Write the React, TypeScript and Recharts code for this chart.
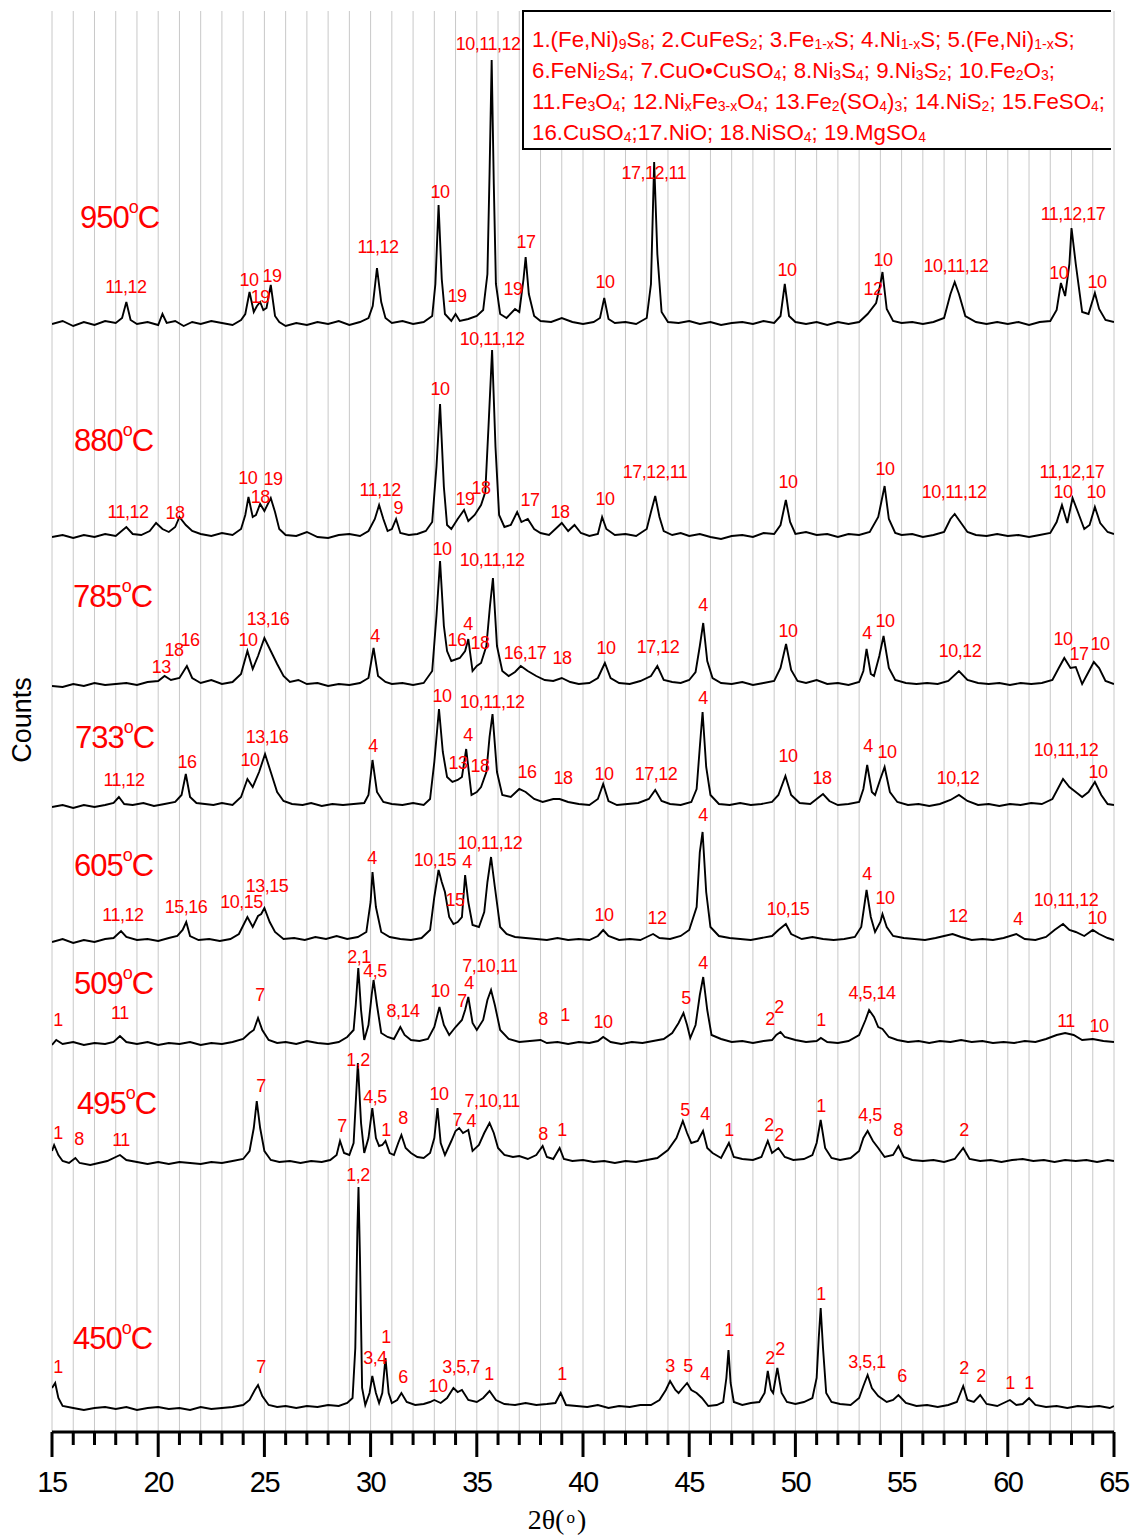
import React from "react";
import { ComposedChart, Line, Scatter, XAxis, YAxis, CartesianGrid } from "recharts";

/* x axis: 2θ, major labels every 5°, minor ticks every 1° */
const MAJOR_TICKS = [15, 20, 25, 30, 35, 40, 45, 50, 55, 60, 65];
const ALL_TICKS = Array.from({ length: 51 }, (_, i) => 15 + i);
/* y axis has no labels, only small inner ticks */
const Y_TICKS = [67.7, 135.3, 203, 270.7, 338.3, 406, 473.7, 541.3, 609, 676.7, 744.3, 812, 879.7, 947.3, 1015, 1082.7, 1150.3, 1218, 1285.7, 1353.3];

/* pattern offsets (stacked) */
const OFFSETS = { t950: 1108, t880: 895, t785: 746, t733: 625, t605: 490, t509: 387, t495: 269, t450: 24 };

/* [2θ, intensity above own baseline] */
const P950 = [
  [15, 0], [15.5, 3], [16, -2], [16.5, 2], [17, -1], [17.5, 3], [18, 1], [18.3, 6], [18.5, 22], [18.7, 4], [19, 0], [19.5, 2], [20, -1], [20.2, 10], [20.4, 1], [20.8, 3], [21.2, -2], [21.6, 2], [22, 0], [22.5, 3], [23, 1], [23.5, -1], [23.9, 4], [24.1, 10], [24.3, 32], [24.5, 12], [24.65, 18], [24.8, 22], [24.95, 14], [25.1, 16], [25.3, 39], [25.5, 8], [25.7, 2], [26, -2], [26.5, 1], [27, -1], [27.5, 2], [28, 0], [28.5, 3], [29, -1], [29.5, 2], [29.9, 6], [30.1, 18], [30.3, 56], [30.5, 22], [30.7, 6], [31, 1], [31.5, 3], [32, 0], [32.5, 2], [32.9, 8], [33.05, 40], [33.2, 119], [33.35, 45], [33.5, 10], [33.8, 3], [34, 10], [34.2, 3], [34.6, 5], [35, 8], [35.3, 14], [35.5, 50], [35.6, 150], [35.7, 264], [35.8, 140], [35.9, 40], [36.1, 10], [36.4, 6], [36.8, 15], [37, 12], [37.2, 45], [37.3, 67], [37.45, 30], [37.7, 8], [38, 3], [38.5, 2], [39, 6], [39.5, 2], [40, 0], [40.5, 2], [40.8, 6], [41, 26], [41.2, 5], [41.5, 1], [42, 2], [42.5, 0], [43, 6], [43.2, 40], [43.35, 162], [43.5, 70], [43.7, 12], [44, 2], [44.5, 1], [45, 3], [45.5, 0], [46, 2], [46.5, -1], [47, 1], [47.5, 2], [48, 0], [48.5, 3], [49, 1], [49.3, 8], [49.5, 40], [49.7, 8], [50, 2], [50.5, 0], [51, 2], [51.5, -1], [52, 2], [52.5, 0], [53, 2], [53.4, 10], [53.8, 21], [54, 40], [54.1, 52], [54.3, 15], [54.6, 3], [55, 1], [55.5, 2], [56, 0], [56.5, 2], [57, 6], [57.3, 30], [57.5, 42], [57.7, 30], [58, 8], [58.5, 2], [59, 0], [59.5, 2], [60, 0], [60.5, 2], [61, -1], [61.5, 2], [62, 3], [62.3, 14], [62.5, 41], [62.7, 28], [62.9, 60], [63, 96], [63.2, 60], [63.5, 12], [63.8, 10], [64.1, 31], [64.3, 15], [64.6, 4], [65, 2],
];
const P880 = [
  [15, 0], [15.5, 2], [16, -1], [16.5, 2], [17, 0], [17.5, 3], [18, 1], [18.5, 10], [18.8, 3], [19.2, 2], [19.6, 6], [19.9, 14], [20.2, 8], [20.5, 5], [20.8, 10], [21, 20], [21.3, 12], [21.6, 6], [22, 3], [22.5, 1], [23, 4], [23.5, 2], [23.9, 8], [24.1, 22], [24.25, 40], [24.45, 20], [24.6, 22], [24.8, 33], [25, 26], [25.3, 39], [25.5, 25], [25.7, 8], [26, 2], [26.5, 1], [27, 5], [27.5, 0], [28, -1], [28.5, 2], [29, 3], [29.5, 1], [29.9, 6], [30.2, 18], [30.4, 32], [30.6, 18], [30.8, 6], [31, 8], [31.2, 18], [31.4, 4], [31.8, 2], [32.2, 3], [32.6, 6], [32.9, 15], [33.1, 70], [33.27, 133], [33.45, 50], [33.6, 12], [33.8, 8], [34.1, 18], [34.4, 27], [34.6, 16], [34.9, 22], [35.2, 32], [35.4, 45], [35.55, 110], [35.72, 187], [35.88, 90], [36.05, 22], [36.3, 10], [36.6, 12], [36.9, 25], [37.1, 15], [37.4, 18], [37.7, 8], [38, 4], [38.4, 2], [38.8, 10], [39, 14], [39.3, 6], [39.6, 12], [39.9, 4], [40.3, 1], [40.7, 3], [40.9, 20], [41.1, 8], [41.5, 2], [42, 3], [42.5, 1], [43, 8], [43.2, 25], [43.4, 41], [43.6, 20], [43.8, 6], [44.2, 2], [44.6, 4], [45, 1], [45.5, 3], [46, 0], [46.5, -2], [47, 1], [47.5, 2], [48, 0], [48.5, 4], [49, 3], [49.3, 12], [49.55, 37], [49.75, 15], [50, 3], [50.5, 5], [51, 2], [51.5, 3], [52, 0], [52.5, 3], [53, 2], [53.5, 5], [53.9, 20], [54.2, 51], [54.4, 18], [54.7, 4], [55, 2], [55.5, 3], [56, 0], [56.5, 2], [57, 5], [57.3, 18], [57.5, 23], [57.8, 14], [58.1, 5], [58.5, 2], [59, 1], [59.5, 3], [60, 1], [60.5, 2], [61, 0], [61.5, 2], [62, 4], [62.3, 15], [62.55, 32], [62.8, 14], [63.05, 39], [63.3, 25], [63.6, 8], [63.85, 12], [64.1, 30], [64.35, 14], [64.7, 5], [65, 3],
];
const P785 = [
  [15, 0], [15.5, -1], [16, 2], [16.5, 0], [17, 3], [17.5, 1], [18, 2], [18.5, 3], [19, 1], [19.5, 4], [20, 5], [20.3, 10], [20.6, 6], [21, 8], [21.35, 20], [21.6, 8], [22, 3], [22.5, 6], [23, 2], [23.5, 4], [23.9, 12], [24.2, 35], [24.45, 17], [24.7, 30], [25, 48], [25.3, 35], [25.6, 22], [25.9, 10], [26.2, 4], [26.6, 6], [27, 2], [27.5, 3], [28, 0], [28.5, 2], [29, 1], [29.5, 3], [29.9, 8], [30.14, 38], [30.35, 10], [30.7, 4], [31, 2], [31.5, 3], [32, 1], [32.5, 3], [32.9, 15], [33.1, 70], [33.27, 125], [33.45, 60], [33.6, 35], [33.8, 25], [34.2, 28], [34.45, 35], [34.6, 47], [34.8, 15], [35, 20], [35.2, 23], [35.45, 40], [35.62, 80], [35.76, 108], [35.95, 40], [36.2, 15], [36.5, 10], [36.8, 14], [37.07, 20], [37.4, 15], [37.8, 10], [38.2, 6], [38.6, 5], [39, 8], [39.4, 4], [39.8, 2], [40.3, 3], [40.7, 8], [41.03, 23], [41.3, 8], [41.7, 3], [42.2, 2], [42.7, 5], [43.2, 10], [43.5, 20], [43.8, 6], [44.2, 4], [44.6, 3], [45, 6], [45.3, 14], [45.5, 40], [45.66, 63], [45.85, 25], [46.1, 8], [46.5, 3], [47, 2], [47.5, 4], [48, 1], [48.5, 3], [49, 5], [49.3, 18], [49.56, 42], [49.8, 16], [50.1, 5], [50.5, 3], [51, 6], [51.5, 2], [52, 3], [52.5, 1], [53, 4], [53.2, 15], [53.35, 37], [53.55, 12], [53.7, 10], [53.95, 30], [54.15, 50], [54.4, 18], [54.7, 6], [55.2, 3], [55.7, 2], [56.2, 3], [56.7, 2], [57.2, 5], [57.7, 15], [58.1, 6], [58.6, 3], [59.1, 2], [59.6, 3], [60.1, 1], [60.6, 3], [61.1, 2], [61.6, 3], [62.1, 6], [62.4, 18], [62.66, 28], [62.95, 18], [63.2, 19], [63.5, 2], [63.8, 14], [64.05, 24], [64.3, 18], [64.6, 5], [65, 2],
];
const P733 = [
  [15, 0], [15.5, 2], [16, -1], [16.5, 2], [17, 0], [17.5, 2], [17.9, 4], [18.15, 10], [18.4, 3], [18.8, 2], [19.3, 4], [19.8, 1], [20.3, 3], [20.8, 5], [21.1, 12], [21.3, 33], [21.5, 10], [21.8, 4], [22.2, 3], [22.6, 2], [23, 4], [23.5, 2], [23.9, 10], [24.2, 28], [24.45, 20], [24.75, 35], [25.03, 53], [25.3, 35], [25.6, 15], [25.9, 6], [26.3, 3], [26.8, 2], [27.2, 4], [27.7, 1], [28.2, 3], [28.7, 2], [29.2, 3], [29.7, 4], [29.9, 12], [30.09, 47], [30.3, 15], [30.6, 5], [31, 3], [31.5, 2], [32, 4], [32.5, 2], [32.8, 8], [33, 45], [33.22, 98], [33.4, 55], [33.6, 30], [33.85, 25], [34.1, 27], [34.3, 30], [34.5, 58], [34.75, 12], [35, 15], [35.2, 20], [35.45, 35], [35.6, 70], [35.74, 93], [35.95, 35], [36.2, 12], [36.6, 10], [37, 18], [37.3, 15], [37.7, 8], [38.1, 5], [38.6, 8], [38.9, 8], [39.3, 5], [39.8, 3], [40.3, 2], [40.7, 8], [40.95, 23], [41.2, 6], [41.6, 2], [42.1, 3], [42.6, 4], [43.1, 8], [43.4, 17], [43.7, 6], [44.1, 3], [44.6, 2], [45.1, 5], [45.35, 18], [45.5, 60], [45.63, 95], [45.8, 40], [46, 12], [46.4, 3], [46.9, 2], [47.4, 4], [47.9, 2], [48.4, 3], [48.9, 5], [49.2, 12], [49.53, 31], [49.8, 12], [50.2, 4], [50.7, 3], [51, 8], [51.3, 13], [51.6, 6], [52, 2], [52.5, 3], [53, 5], [53.2, 18], [53.38, 42], [53.6, 15], [53.75, 12], [54, 28], [54.2, 40], [54.45, 15], [54.8, 5], [55.3, 2], [55.8, 3], [56.3, 1], [56.8, 3], [57.3, 7], [57.7, 12], [58.1, 6], [58.6, 2], [59.1, 3], [59.6, 1], [60.1, 3], [60.6, 2], [61.1, 4], [61.6, 3], [62.1, 8], [62.4, 20], [62.6, 28], [62.9, 20], [63.2, 15], [63.5, 10], [63.8, 15], [64.1, 25], [64.4, 12], [64.7, 3], [65, 2],
];
const P605 = [
  [15, 0], [15.5, 3], [16, -1], [16.5, 2], [17, 0], [17.5, 3], [17.9, 4], [18.25, 11], [18.5, 5], [19, 2], [19.5, 3], [20, 1], [20.5, 4], [20.9, 6], [21.15, 12], [21.32, 20], [21.5, 6], [21.9, 2], [22.4, 3], [22.9, 1], [23.4, 3], [23.8, 8], [24.2, 25], [24.45, 15], [24.7, 26], [24.85, 28], [25, 34], [25.25, 20], [25.5, 10], [25.9, 3], [26.4, 4], [26.9, 2], [27.4, 5], [27.9, 3], [28.4, 6], [28.9, 3], [29.4, 5], [29.8, 10], [30, 40], [30.09, 70], [30.25, 35], [30.5, 10], [30.9, 5], [31.4, 3], [31.9, 2], [32.4, 4], [32.8, 12], [33, 45], [33.2, 72], [33.35, 60], [33.5, 50], [33.7, 25], [33.9, 18], [34.1, 20], [34.3, 25], [34.45, 67], [34.6, 40], [34.8, 17], [35.1, 15], [35.35, 30], [35.5, 60], [35.67, 85], [35.85, 55], [36.1, 15], [36.4, 8], [36.8, 5], [37.3, 4], [37.8, 3], [38.3, 2], [38.8, 4], [39.3, 2], [39.8, 3], [40.3, 2], [40.7, 6], [40.95, 12], [41.2, 6], [41.7, 2], [42.2, 3], [42.7, 2], [43, 5], [43.3, 8], [43.6, 4], [44.1, 3], [44.6, 6], [45, 12], [45.35, 35], [45.5, 90], [45.63, 110], [45.8, 50], [46, 15], [46.4, 6], [46.9, 4], [47.4, 3], [47.9, 2], [48.4, 4], [48.9, 6], [49.2, 12], [49.55, 18], [49.8, 8], [50.3, 3], [50.8, 5], [51.3, 3], [51.8, 2], [52.3, 3], [52.8, 5], [53.1, 15], [53.35, 52], [53.55, 25], [53.75, 10], [54, 20], [54.1, 28], [54.3, 15], [54.6, 6], [55.1, 4], [55.6, 3], [56.1, 2], [56.6, 4], [57, 6], [57.4, 8], [57.8, 5], [58.3, 2], [58.8, 3], [59.3, 2], [59.8, 4], [60.4, 8], [60.8, 3], [61.3, 2], [61.8, 5], [62.2, 12], [62.6, 18], [62.9, 12], [63.2, 10], [63.6, 6], [64, 12], [64.3, 8], [64.7, 4], [65, 2],
];
const P509 = [
  [15, 0], [15.2, 5], [15.5, 1], [16, 3], [16.5, 0], [17, 2], [17.5, 1], [17.9, 3], [18.2, 9], [18.5, 3], [19, 1], [19.5, 3], [20, 0], [20.5, 2], [21, 1], [21.5, 3], [22, 0], [22.5, 2], [23, 1], [23.5, 3], [24, 6], [24.3, 12], [24.5, 15], [24.7, 27], [24.9, 15], [25.2, 5], [25.6, 2], [26, 3], [26.5, 1], [27, 4], [27.5, 2], [28, 1], [28.5, 3], [28.9, 8], [29.2, 15], [29.3, 40], [29.42, 77], [29.55, 35], [29.7, 5], [29.9, 20], [30.05, 50], [30.14, 65], [30.3, 40], [30.5, 12], [30.8, 8], [31.1, 6], [31.4, 18], [31.6, 10], [31.9, 5], [32.3, 4], [32.7, 6], [33, 18], [33.24, 38], [33.45, 20], [33.7, 10], [34, 18], [34.3, 25], [34.45, 35], [34.6, 48], [34.8, 22], [35, 15], [35.3, 25], [35.5, 45], [35.67, 55], [35.85, 40], [36.1, 15], [36.5, 6], [37, 3], [37.5, 4], [38, 5], [38.3, 2], [38.8, 3], [39.3, 1], [39.8, 3], [40.3, 2], [40.7, 4], [40.95, 8], [41.3, 3], [41.8, 1], [42.3, 3], [42.8, 2], [43.3, 4], [43.8, 6], [44.2, 12], [44.5, 22], [44.73, 32], [44.9, 20], [45.05, 7], [45.3, 20], [45.5, 50], [45.66, 68], [45.85, 35], [46.05, 10], [46.5, 6], [47, 3], [47.5, 4], [48, 2], [48.5, 4], [48.9, 5], [49.1, 10], [49.3, 13], [49.5, 8], [50, 5], [50.5, 3], [51, 4], [51.2, 7], [51.5, 3], [52, 2], [52.5, 4], [53, 10], [53.3, 25], [53.47, 35], [53.7, 28], [53.9, 18], [54.1, 16], [54.4, 8], [54.8, 5], [55.3, 3], [55.8, 4], [56.3, 2], [56.8, 4], [57.3, 3], [57.8, 5], [58.3, 3], [58.8, 4], [59.3, 2], [59.8, 3], [60.3, 2], [60.8, 4], [61.3, 3], [61.8, 6], [62.3, 10], [62.7, 12], [63.1, 10], [63.5, 5], [64, 6], [64.5, 4], [65, 3],
];
const P495 = [
  [15, 12], [15.1, 18], [15.3, 8], [15.5, 2], [15.8, 0], [16.1, 5], [16.3, 0], [16.8, -2], [17.2, 0], [17.6, 2], [18.2, 8], [18.5, 3], [19, 1], [19.5, -1], [20, 1], [20.5, -1], [21, 1], [21.5, 0], [22, -1], [22.5, 1], [23, 0], [23.5, 2], [24, 4], [24.3, 12], [24.5, 35], [24.64, 62], [24.8, 35], [25, 12], [25.3, 3], [25.7, 1], [26.2, 2], [26.7, 0], [27.2, 2], [27.7, 1], [28.1, 3], [28.4, 8], [28.56, 22], [28.75, 10], [29, 8], [29.2, 20], [29.3, 60], [29.4, 100], [29.55, 40], [29.7, 10], [29.9, 25], [30.08, 55], [30.25, 25], [30.4, 17], [30.55, 18], [30.7, 22], [30.9, 10], [31.1, 8], [31.3, 20], [31.45, 28], [31.65, 15], [31.9, 10], [32.2, 6], [32.5, 5], [32.8, 10], [33, 25], [33.15, 55], [33.3, 20], [33.5, 8], [33.8, 22], [34, 32], [34.17, 35], [34.35, 30], [34.6, 33], [34.8, 12], [35.1, 18], [35.35, 30], [35.6, 40], [35.8, 30], [36, 15], [36.3, 8], [36.7, 6], [37, 7], [37.4, 4], [37.8, 8], [38.1, 17], [38.3, 6], [38.6, 4], [38.9, 15], [39.1, 4], [39.5, 2], [40, 3], [40.5, 1], [41, 2], [41.5, 0], [42, 2], [42.5, 1], [43, 3], [43.5, 5], [44, 13], [44.4, 25], [44.7, 42], [44.9, 30], [45.1, 20], [45.4, 22], [45.65, 32], [45.85, 15], [46.1, 10], [46.5, 5], [46.87, 20], [47.1, 6], [47.5, 4], [48, 3], [48.4, 6], [48.7, 22], [48.9, 10], [49.2, 15], [49.5, 6], [49.9, 3], [50.4, 4], [50.8, 8], [51, 20], [51.19, 43], [51.4, 15], [51.7, 5], [52.1, 3], [52.6, 5], [53, 12], [53.2, 25], [53.4, 32], [53.65, 22], [53.9, 15], [54.2, 6], [54.6, 8], [54.85, 17], [55.1, 6], [55.5, 3], [56, 2], [56.5, 3], [57, 1], [57.5, 4], [57.9, 15], [58.2, 4], [58.7, 2], [59.2, 3], [59.7, 1], [60.2, 3], [60.7, 4], [61.2, 2], [61.7, 3], [62.2, 1], [62.7, 3], [63.2, 2], [63.7, 3], [64.2, 1], [64.7, 3], [65, 2],
];
const P450 = [
  [15, 20], [15.15, 25], [15.3, 10], [15.5, 2], [16, 0], [16.5, -2], [17, 0], [17.5, 1], [18, -1], [18.5, 1], [19, -2], [19.5, 0], [20, 1], [20.5, -1], [21, 0], [21.5, -2], [22, 1], [22.5, -1], [23, 0], [23.5, 1], [24, 3], [24.3, 8], [24.55, 18], [24.7, 23], [24.9, 12], [25.2, 3], [25.6, 1], [26, 2], [26.5, 0], [27, 2], [27.5, 1], [28, 3], [28.5, 2], [28.9, 5], [29.15, 10], [29.28, 60], [29.38, 180], [29.43, 221], [29.5, 150], [29.6, 20], [29.75, 3], [29.95, 15], [30.08, 32], [30.25, 15], [30.4, 5], [30.55, 15], [30.7, 50], [30.85, 15], [31, 5], [31.25, 8], [31.45, 15], [31.7, 6], [32.1, 3], [32.5, 4], [32.8, 6], [33, 8], [33.3, 5], [33.6, 10], [33.9, 20], [34.1, 16], [34.3, 18], [34.6, 8], [35, 6], [35.3, 10], [35.6, 17], [35.9, 8], [36.3, 4], [36.8, 3], [37.3, 5], [37.8, 3], [38.3, 4], [38.7, 5], [38.95, 15], [39.2, 3], [39.7, 2], [40.2, 1], [40.7, 3], [41.2, 0], [41.7, 2], [42.2, 1], [42.7, 3], [43.2, 3], [43.6, 8], [43.9, 18], [44.1, 27], [44.35, 18], [44.5, 15], [44.7, 20], [44.9, 25], [45.1, 18], [45.35, 15], [45.6, 10], [45.9, 2], [46.3, 3], [46.6, 6], [46.75, 30], [46.85, 58], [46.95, 25], [47.1, 6], [47.5, 3], [47.9, 5], [48.3, 6], [48.55, 15], [48.7, 37], [48.85, 18], [48.95, 15], [49.15, 40], [49.35, 15], [49.6, 6], [50, 4], [50.4, 6], [50.8, 10], [51, 30], [51.1, 70], [51.19, 100], [51.3, 60], [51.45, 15], [51.7, 6], [52.1, 4], [52.6, 3], [53, 10], [53.2, 22], [53.4, 33], [53.6, 20], [53.9, 12], [54.3, 6], [54.6, 8], [54.85, 13], [55.2, 5], [55.7, 2], [56.2, 3], [56.7, 1], [57.2, 3], [57.6, 6], [57.9, 22], [58.1, 8], [58.4, 6], [58.7, 13], [59, 4], [59.5, 2], [60.1, 8], [60.4, 3], [60.7, 4], [61, 10], [61.3, 3], [61.8, 1], [62.3, 2], [62.8, 0], [63.3, 2], [63.8, 1], [64.3, 2], [64.8, 0], [65, 2],
];

/* peak labels: [2θ, height above baseline, phase numbers] */
const L950 = [
  [18.48, 37, "11,12"], [24.27, 44, "10"], [25.36, 48, "19"], [24.8, 27, "19"], [30.35, 77, "11,12"], [33.27, 132, "10"], [34.07, 28, "19"], [35.53, 280, "10,11,12"], [36.7, 35, "19"], [37.32, 82, "17"], [41.04, 42, "10"], [43.34, 151, "17,12,11"], [49.6, 54, "10"], [53.65, 35, "12"], [54.12, 64, "10"], [57.56, 58, "10,11,12"], [62.4, 51, "10"], [63.07, 110, "11,12,17"], [64.2, 42, "10"],
];
const L880 = [
  [18.58, 25, "11,12"], [20.79, 24, "18"], [24.22, 59, "10"], [25.4, 58, "19"], [24.8, 40, "18"], [30.45, 47, "11,12"], [31.3, 29, "9"], [33.27, 148, "10"], [34.44, 38, "19"], [35.2, 49, "18"], [35.72, 198, "10,11,12"], [37.5, 37, "17"], [38.92, 25, "18"], [41.04, 38, "10"], [43.39, 65, "17,12,11"], [49.65, 55, "10"], [54.22, 68, "10"], [57.47, 45, "10,11,12"], [63.02, 65, "11,12,17"], [62.6, 45, "10"], [64.15, 45, "10"],
];
const L785 = [
  [20.15, 19, "13"], [20.74, 36, "18"], [21.5, 46, "16"], [24.23, 46, "10"], [25.17, 67, "13,16"], [30.21, 50, "4"], [33.36, 137, "10"], [34.07, 46, "16"], [34.59, 62, "4"], [35.15, 43, "18"], [35.72, 126, "10,11,12"], [37.27, 33, "16,17"], [39.01, 28, "18"], [41.08, 38, "10"], [43.53, 39, "17,12"], [45.65, 81, "4"], [49.65, 55, "10"], [53.37, 53, "4"], [54.22, 65, "10"], [57.75, 35, "10,12"], [62.6, 47, "10"], [63.35, 32, "17"], [64.34, 42, "10"],
];
const L733 = [
  [18.39, 27, "11,12"], [21.36, 45, "16"], [24.32, 47, "10"], [25.12, 70, "13,16"], [30.11, 61, "4"], [33.36, 111, "10"], [34.12, 44, "13"], [34.59, 72, "4"], [35.15, 41, "18"], [35.72, 105, "10,11,12"], [37.36, 35, "16"], [39.06, 29, "18"], [40.99, 33, "10"], [43.44, 33, "17,12"], [45.65, 109, "4"], [49.65, 51, "10"], [51.25, 29, "18"], [53.42, 61, "4"], [54.31, 55, "10"], [57.66, 29, "10,12"], [62.74, 57, "10,11,12"], [64.25, 35, "10"],
];
const L605 = [
  [18.34, 27, "11,12"], [21.31, 35, "15,16"], [23.92, 40, "10,15"], [25.12, 56, "13,15"], [30.07, 84, "4"], [33.03, 82, "10,15"], [33.97, 42, "15"], [34.54, 80, "4"], [35.62, 99, "10,11,12"], [40.99, 27, "10"], [43.48, 24, "12"], [45.65, 127, "4"], [49.65, 33, "10,15"], [53.37, 68, "4"], [54.22, 44, "10"], [57.66, 26, "12"], [60.48, 23, "4"], [62.74, 42, "10,11,12"], [64.2, 24, "10"],
];
const L509 = [
  [15.28, 25, "1"], [18.2, 32, "11"], [24.79, 50, "7"], [29.45, 88, "2,1"], [30.21, 74, "4,5"], [31.53, 34, "8,14"], [33.27, 54, "10"], [34.3, 44, "7"], [34.63, 62, "4"], [35.62, 79, "7,10,11"], [38.12, 26, "8"], [39.15, 30, "1"], [40.94, 23, "10"], [44.85, 47, "5"], [45.65, 82, "4"], [48.8, 26, "2"], [49.23, 38, "2"], [51.21, 25, "1"], [53.61, 52, "4,5,14"], [62.74, 24, "11"], [64.29, 19, "10"],
];
const L495 = [
  [15.28, 30, "1"], [16.27, 24, "8"], [18.25, 23, "11"], [24.84, 77, "7"], [29.41, 103, "1,2"], [28.65, 37, "7"], [30.21, 66, "4,5"], [30.73, 33, "1"], [31.53, 45, "8"], [33.22, 69, "10"], [34.08, 43, "7"], [34.74, 42, "4"], [35.72, 62, "7,10,11"], [38.12, 29, "8"], [39.01, 33, "1"], [44.8, 53, "5"], [45.74, 49, "4"], [46.87, 33, "1"], [48.76, 38, "2"], [49.23, 28, "2"], [51.21, 57, "1"], [53.51, 48, "4,5"], [54.83, 33, "8"], [57.94, 33, "2"],
];
const L450 = [
  [15.28, 41, "1"], [24.84, 41, "7"], [29.41, 233, "1,2"], [30.21, 50, "3,4"], [30.73, 71, "1"], [31.53, 31, "6"], [33.17, 22, "10"], [34.26, 41, "3,5,7"], [35.57, 34, "1"], [39.01, 34, "1"], [44.1, 42, "3"], [44.94, 42, "5"], [45.74, 34, "4"], [46.87, 78, "1"], [48.8, 50, "2"], [49.28, 59, "2"], [51.21, 114, "1"], [53.37, 46, "3,5,1"], [55.02, 32, "6"], [57.94, 40, "2"], [58.74, 32, "2"], [60.1, 25, "1"], [61.0, 25, "1"],
];

/* temperature tags: [2θ of left edge, height above baseline] */
const TEMPS = [
  { temp: "950", offset: OFFSETS.t950, at: [16.32, 107], points: P950, labels: L950 },
  { temp: "880", offset: OFFSETS.t880, at: [16.04, 97], points: P880, labels: L880 },
  { temp: "785", offset: OFFSETS.t785, at: [15.99, 90], points: P785, labels: L785 },
  { temp: "733", offset: OFFSETS.t733, at: [16.08, 70], points: P733, labels: L733 },
  { temp: "605", offset: OFFSETS.t605, at: [16.04, 77], points: P605, labels: L605 },
  { temp: "509", offset: OFFSETS.t509, at: [16.04, 62], points: P509, labels: L509 },
  { temp: "495", offset: OFFSETS.t495, at: [16.18, 60], points: P495, labels: L495 },
  { temp: "450", offset: OFFSETS.t450, at: [15.99, 70], points: P450, labels: L450 },
];

const RED = "#ff0000";
const SANS = '"Liberation Sans", Arial, sans-serif';

const peakRows = TEMPS.flatMap((t) =>
  t.labels.map(([x, h, text]) => ({ x, y: t.offset + (h as number), text }))
);
const tempRows = TEMPS.map((t) => ({ x: t.at[0], y: t.offset + t.at[1], text: t.temp }));

function PeakLabel(props: any) {
  const { cx, cy, payload } = props;
  return (
    <text x={cx} y={cy} textAnchor="middle" dominantBaseline="central" fill={RED}
      fontSize={18} letterSpacing={-0.5} fontFamily={SANS}>
      {payload.text}
    </text>
  );
}

function TempLabel(props: any) {
  const { cx, cy, payload } = props;
  return (
    <text x={cx} y={cy + 11} fill={RED} fontSize={31} letterSpacing={-1} fontFamily={SANS}>
      {payload.text}
      <tspan fontSize={18} dy={-15}>o</tspan>
      <tspan dy={15}>C</tspan>
    </text>
  );
}

function XTick(props: any) {
  const { x, y, payload } = props;
  const major = MAJOR_TICKS.includes(payload.value);
  return (
    <g>
      <line x1={x} x2={x} y1={y} y2={y + (major ? 25 : 13)} stroke="#000" strokeWidth={3} />
      {major && (
        <text x={x} y={y + 60} textAnchor="middle" fontSize={29} letterSpacing={-1.5}
          fontFamily={SANS} fill="#000">
          {payload.value}
        </text>
      )}
    </g>
  );
}

const sub = { fontSize: 14, verticalAlign: "-2px", lineHeight: 0 } as const;

export default function App() {
  return (
    <div style={{ position: "absolute", left: 0, top: 0, width: 1134, height: 1538, background: "#fff" }}>
      <ComposedChart width={1134} height={1538} margin={{ top: 11, right: 20, bottom: 46, left: 52 }}>
        <CartesianGrid horizontal={false} stroke="#c8c8c8" strokeWidth={1} />
        <XAxis dataKey="x" type="number" domain={[15, 65]} allowDataOverflow ticks={ALL_TICKS}
          interval={0} height={60} tickSize={0} tickMargin={0} tickLine={false}
          axisLine={{ stroke: "#000", strokeWidth: 3 }} tick={<XTick />} />
        <XAxis xAxisId="top" orientation="top" dataKey="x" type="number" domain={[15, 65]}
          allowDataOverflow height={0} tick={false} tickLine={false}
          axisLine={{ stroke: "#000", strokeWidth: 3 }} />
        <YAxis yAxisId="l" dataKey="y" type="number" domain={[0, 1421]} allowDataOverflow
          width={0} ticks={Y_TICKS} interval={0} mirror tick={false} tickSize={5}
          tickLine={{ stroke: "#000", strokeWidth: 3 }} axisLine={{ stroke: "#000", strokeWidth: 3 }} />
        <YAxis yAxisId="r" orientation="right" dataKey="y" type="number" domain={[0, 1421]}
          allowDataOverflow width={0} ticks={Y_TICKS} interval={0} mirror tick={false} tickSize={5}
          tickLine={{ stroke: "#000", strokeWidth: 3 }} axisLine={{ stroke: "#000", strokeWidth: 3 }} />

        {TEMPS.map((t) => (
          <Line key={t.temp} yAxisId="l" type="linear" dataKey="y"
            data={t.points.map(([x, h]) => ({ x, y: t.offset + h }))}
            stroke="#000" strokeWidth={1.9} dot={false} isAnimationActive={false} />
        ))}

        <Scatter yAxisId="l" dataKey="y" data={peakRows} shape={<PeakLabel />} isAnimationActive={false} />
        <Scatter yAxisId="l" dataKey="y" data={tempRows} shape={<TempLabel />} isAnimationActive={false} />
      </ComposedChart>

      {/* y title */}
      <div style={{ position: "absolute", left: 22, top: 720, transform: "translate(-50%, -50%) rotate(-90deg)",
        fontFamily: SANS, fontSize: 27, color: "#000", whiteSpace: "nowrap" }}>
        Counts
      </div>

      {/* x title */}
      <div style={{ position: "absolute", left: 557, top: 1520, transform: "translate(-50%, -50%)",
        fontFamily: '"Liberation Serif", "Times New Roman", serif', fontSize: 28, color: "#000", whiteSpace: "nowrap" }}>
        2θ(<span style={{ fontSize: 17, verticalAlign: "6px", padding: "0 2px" }}>o</span>)
      </div>

      {/* phase legend */}
      <div style={{ position: "absolute", left: 522, top: 10, width: 589, height: 140, border: "2px solid #000",
        borderRight: "none", background: "#fff", color: RED, fontFamily: SANS, fontSize: 22.3,
        lineHeight: "31px", padding: "12px 0 0 8px", boxSizing: "border-box", whiteSpace: "nowrap" }}>
        <div style={{ height: 31 }}>1.(Fe,Ni)<span style={sub}>9</span>S<span style={sub}>8</span>; 2.CuFeS<span style={sub}>2</span>; 3.Fe<span style={sub}>1-x</span>S; 4.Ni<span style={sub}>1-x</span>S; 5.(Fe,Ni)<span style={sub}>1-x</span>S;</div>
        <div style={{ height: 31 }}>6.FeNi<span style={sub}>2</span>S<span style={sub}>4</span>; 7.CuO•CuSO<span style={sub}>4</span>; 8.Ni<span style={sub}>3</span>S<span style={sub}>4</span>; 9.Ni<span style={sub}>3</span>S<span style={sub}>2</span>; 10.Fe<span style={sub}>2</span>O<span style={sub}>3</span>;</div>
        <div style={{ height: 31 }}>11.Fe<span style={sub}>3</span>O<span style={sub}>4</span>; 12.Ni<span style={sub}>x</span>Fe<span style={sub}>3-x</span>O<span style={sub}>4</span>; 13.Fe<span style={sub}>2</span>(SO<span style={sub}>4</span>)<span style={sub}>3</span>; 14.NiS<span style={sub}>2</span>; 15.FeSO<span style={sub}>4</span>;</div>
        <div style={{ height: 31 }}>16.CuSO<span style={sub}>4</span>;17.NiO; 18.NiSO<span style={sub}>4</span>; 19.MgSO<span style={sub}>4</span></div>
      </div>
    </div>
  );
}
